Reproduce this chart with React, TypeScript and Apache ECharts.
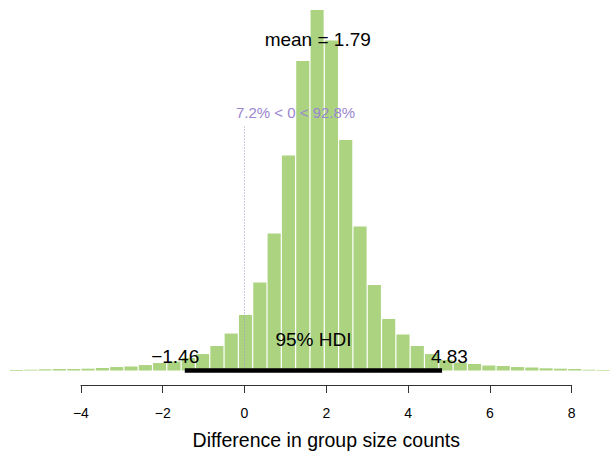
import React, { useEffect, useRef } from "react";
import * as echarts from "echarts";

// Histogram bins (left edges) and posterior density heights
const binWidth = 0.35;
const binLefts = [
  -5.75, -5.4, -5.05, -4.7, -4.35, -4.0, -3.65, -3.3, -2.95, -2.6, -2.25, -1.9, -1.55, -1.2,
  -0.85, -0.5, -0.15, 0.2, 0.55, 0.9, 1.25, 1.6, 1.95, 2.3, 2.65, 3.0, 3.35, 3.7, 4.05, 4.4,
  4.75, 5.1, 5.45, 5.8, 6.15, 6.5, 6.85, 7.2, 7.55, 7.9, 8.25, 8.6,
];
const density = [
  0.0006, 0.001, 0.0015, 0.0019, 0.0019, 0.0023, 0.0032, 0.0044, 0.0051, 0.0069, 0.0095, 0.0114,
  0.0158, 0.0208, 0.031, 0.0467, 0.0701, 0.1112, 0.1731, 0.2716, 0.391, 0.4554, 0.4169, 0.2912,
  0.1819, 0.108, 0.0651, 0.0455, 0.031, 0.0208, 0.0133, 0.0101, 0.0082, 0.0063, 0.0057, 0.0044,
  0.0038, 0.0028, 0.0023, 0.0019, 0.001, 0.0006,
];
const meanValue = 1.79;
const hdiLow = -1.46;
const hdiHigh = 4.83;
const compValue = 0;
const pctBelow = 7.2;
const pctAbove = 92.8;
const hdiLabel = "95% HDI";
const xTickValues = [-4, -2, 0, 2, 4, 6, 8];
const xTitle = "Difference in group size counts";

const FONT = "'Liberation Sans', Arial, Helvetica, sans-serif";
const BAR_COLOR = "#acd480";
const PURPLE = "#9a86d0";

const minus = (s: string) => s.replace(/-/g, "\u2212");

function measure(text: string, size: number): number {
  const c = document.createElement("canvas").getContext("2d");
  if (!c) return text.length * size * 0.5;
  c.font = `${size}px ${FONT}`;
  return c.measureText(text).width;
}

export default function App() {
  const ref = useRef<HTMLDivElement>(null);
  useEffect(() => {
    if (!ref.current) return;
    const chart = echarts.init(ref.current, null, { renderer: "svg" });
    const maxD = Math.max(...density);
    const compText = `${pctBelow}% < ${compValue} < ${pctAbove}%`;
    const compW = measure(compText, 15);
    const barData = binLefts.map((l, i) => [l, l + binWidth, density[i]]);

    chart.setOption({
      animation: false,
      grid: {
        left: 80.9,
        right: 44.3,
        top: 0,
        bottom: 66,
        containLabel: false,
        outerBoundsMode: "none",
      },
      xAxis: {
        type: "value",
        min: xTickValues[0],
        max: xTickValues[xTickValues.length - 1],
        interval: 2,
        axisLine: { show: true, onZero: false, lineStyle: { color: "#333", width: 1 } },
        axisTick: { show: true, length: 8, lineStyle: { color: "#333" } },
        axisLabel: {
          color: "#000",
          fontSize: 14,
          fontFamily: FONT,
          margin: 21,
          formatter: (v: number) => minus(String(v)),
        },
        splitLine: { show: false },
        name: xTitle,
        nameLocation: "middle",
        nameGap: 45,
        nameTextStyle: { color: "#000", fontSize: 19.5, fontFamily: FONT },
      },
      yAxis: {
        type: "value",
        min: -0.0183,
        max: 0.468,
        show: false,
        splitLine: { show: false },
      },
      series: [
        {
          type: "custom",
          name: "posterior",
          clip: false,
          data: barData,
          renderItem: (_p: any, api: any) => {
            const l = api.value(0);
            const r = api.value(1);
            const h = api.value(2);
            const p0 = api.coord([l, 0]);
            const p1 = api.coord([r, h]);
            return {
              type: "rect",
              shape: {
                x: p0[0] + 0.6,
                y: p1[1],
                width: p1[0] - p0[0] - 1.2,
                height: Math.max(p0[1] - p1[1], 0.6),
              },
              style: { fill: BAR_COLOR },
            };
          },
        },
        {
          type: "custom",
          name: "annotations",
          clip: false,
          data: [[meanValue]],
          z: 5,
          renderItem: (_p: any, api: any) => {
            const meanPt = api.coord([meanValue, 0.9 * maxD]);
            const compBase = api.coord([compValue, 0]);
            const compTop = api.coord([compValue, 0.308]);
            const compTextPt = api.coord([compValue, 0.326]);
            const lo = api.coord([hdiLow, 0]);
            const hi = api.coord([hdiHigh, 0]);
            const loW = measure(minus(String(hdiLow)), 19);
            const hiW = measure(String(hdiHigh), 19);
            return {
              type: "group",
              children: [
                {
                  type: "line",
                  shape: { x1: compBase[0], y1: compBase[1], x2: compTop[0], y2: compTop[1] },
                  style: { stroke: "#9f96c8", lineWidth: 1, lineDash: [1, 2] },
                },
                {
                  type: "text",
                  x: compTextPt[0] - (pctBelow / 100) * compW,
                  y: compTextPt[1],
                  style: {
                    text: compText,
                    fill: PURPLE,
                    font: `15px ${FONT}`,
                    align: "left",
                    verticalAlign: "middle",
                  },
                },
                {
                  type: "text",
                  x: meanPt[0],
                  y: meanPt[1] - 7,
                  style: {
                    text: `mean = ${meanValue}`,
                    fill: "#000",
                    font: `19px ${FONT}`,
                    align: "center",
                    verticalAlign: "middle",
                  },
                },
                {
                  type: "line",
                  shape: { x1: lo[0], y1: lo[1], x2: hi[0], y2: hi[1] },
                  style: { stroke: "#000", lineWidth: 4.7 },
                },
                {
                  type: "text",
                  x: (lo[0] + hi[0]) / 2,
                  y: lo[1] - 31.5,
                  style: {
                    text: hdiLabel,
                    fill: "#000",
                    font: `19px ${FONT}`,
                    align: "center",
                    verticalAlign: "middle",
                  },
                },
                {
                  type: "text",
                  x: lo[0] - 0.7 * loW,
                  y: lo[1] - 14,
                  style: {
                    text: minus(String(hdiLow)),
                    fill: "#000",
                    font: `19px ${FONT}`,
                    align: "left",
                    verticalAlign: "middle",
                  },
                },
                {
                  type: "text",
                  x: hi[0] - 0.3 * hiW,
                  y: hi[1] - 14,
                  style: {
                    text: String(hdiHigh),
                    fill: "#000",
                    font: `19px ${FONT}`,
                    align: "left",
                    verticalAlign: "middle",
                  },
                },
              ],
            };
          },
        },
      ],
    });
    return () => chart.dispose();
  }, []);

  return (
    <div
      ref={ref}
      style={{ position: "fixed", left: 0, top: 0, width: 616, height: 451, background: "#fff" }}
    />
  );
}
